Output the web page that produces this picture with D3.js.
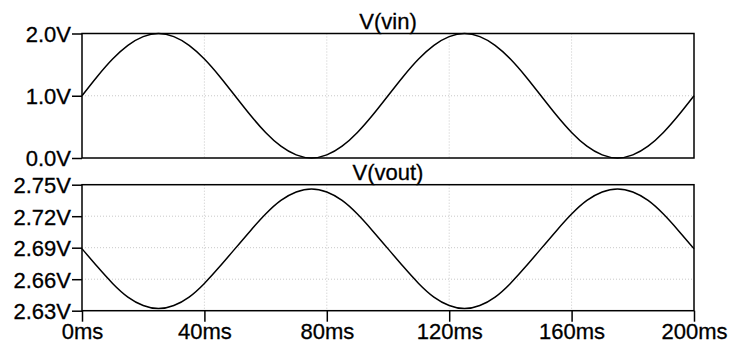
<!DOCTYPE html>
<html>
  <head>
    <meta charset="utf-8" />
    <script src="https://cdn.jsdelivr.net/npm/d3@7"></script>
    <style>
    body { margin: 0; background: #ffffff; }
    text { font-family: "Liberation Sans", Arial, sans-serif; font-size: 22px; fill: #000; stroke: #000; stroke-width: 0.3px; }
    .frame { fill: none; stroke: #000; stroke-width: 1.5px; }
    .grid line { stroke: #c8c8c8; stroke-width: 1px; stroke-dasharray: 1,2; }
    .trace { fill: none; stroke: #000; stroke-width: 1.5px; }
    </style>
  </head>
  <body>
    <svg id="chart" width="729" height="347"></svg>
    <script type="text/javascript">
// time samples (ms), every 5ms
var timeMs = [0,5,10,15,20,25,30,35,40,45,50,55,60,65,70,75,80,85,90,95,100,
              105,110,115,120,125,130,135,140,145,150,155,160,165,170,175,180,185,190,195,200];

// V(vin)
var vin = [1.00,1.31,1.59,1.81,1.95,2.00,1.95,1.81,1.59,1.31,1.00,0.69,0.41,0.19,0.05,0.00,0.05,0.19,0.41,0.69,1.00,
           1.31,1.59,1.81,1.95,2.00,1.95,1.81,1.59,1.31,1.00,0.69,0.41,0.19,0.05,0.00,0.05,0.19,0.41,0.69,1.00];

// V(vout)
var vout = [2.689,2.672,2.656,2.643,2.635,2.632,2.635,2.643,2.656,2.672,2.689,2.706,2.722,2.735,2.743,2.746,2.743,2.735,2.722,2.706,2.689,
            2.672,2.656,2.643,2.635,2.632,2.635,2.643,2.656,2.672,2.689,2.706,2.722,2.735,2.743,2.746,2.743,2.735,2.722,2.706,2.689];

var xTicks = [0, 40, 80, 120, 160, 200];
var vinTicks = [0, 1, 2];
var voutTicks = [2.63, 2.66, 2.69, 2.72, 2.75];

var svg = d3.select("#chart");
var left = 82, right = 694;

var x = d3.scaleLinear().domain([0, 200]).range([left, right]);

var panes = [
  { title: "V(vin)",  top: 33.5,  bottom: 158,   domain: [0, 2],       ticks: vinTicks,  fmt: d3.format(".1f"), values: vin,  titleY: 28.5 },
  { title: "V(vout)", top: 184.7, bottom: 310.7, domain: [2.63, 2.75], ticks: voutTicks, fmt: d3.format(".2f"), values: vout, titleY: 180 }
];

panes.forEach(function(p, idx) {
  var y = d3.scaleLinear().domain(p.domain).range([p.bottom, p.top]);
  var g = svg.append("g");

  // grid
  var grid = g.append("g").attr("class", "grid");
  grid.selectAll("line.v").data(xTicks.slice(1, -1)).enter().append("line")
    .attr("x1", function(d) { return x(d); }).attr("x2", function(d) { return x(d); })
    .attr("y1", p.top).attr("y2", p.bottom);
  grid.selectAll("line.h").data(p.ticks.slice(1, -1)).enter().append("line")
    .attr("x1", left).attr("x2", right)
    .attr("y1", function(d) { return y(d); }).attr("y2", function(d) { return y(d); });

  // y axis ticks + labels
  var yAxis = d3.axisLeft(y).tickValues(p.ticks).tickSize(10).tickPadding(1)
    .tickFormat(function(d) { return p.fmt(d) + "V"; });
  var ya = g.append("g").attr("transform", "translate(" + left + ",0)").call(yAxis);
  ya.select(".domain").remove();
  ya.selectAll(".tick line").attr("stroke", "#000").attr("stroke-width", 1.5);
  ya.selectAll(".tick text").attr("dy", "0.36em").style("font-size", "22px")
    .style("font-family", "'Liberation Sans', Arial, sans-serif");

  // x axis on bottom pane only
  if (idx === 1) {
    var xAxis = d3.axisBottom(x).tickValues(xTicks).tickSize(11).tickPadding(2)
      .tickFormat(function(d) { return d + "ms"; });
    var xa = g.append("g").attr("transform", "translate(0," + p.bottom + ")").call(xAxis);
    xa.select(".domain").remove();
    xa.selectAll(".tick line").attr("stroke", "#000").attr("stroke-width", 1.5);
    xa.selectAll(".tick text").style("font-size", "22px")
      .style("font-family", "'Liberation Sans', Arial, sans-serif");
  }

  // trace
  var line = d3.line()
    .x(function(d, i) { return x(timeMs[i]); })
    .y(function(d) { return y(d); })
    .curve(d3.curveNatural);
  g.append("path").attr("class", "trace").attr("d", line(p.values));

  // frame
  g.append("rect").attr("class", "frame")
    .attr("x", left).attr("y", p.top)
    .attr("width", right - left).attr("height", p.bottom - p.top);

  // title
  g.append("text").attr("x", (left + right) / 2).attr("y", p.titleY)
    .attr("text-anchor", "middle").text(p.title);
});
    </script>
  </body>
</html>
